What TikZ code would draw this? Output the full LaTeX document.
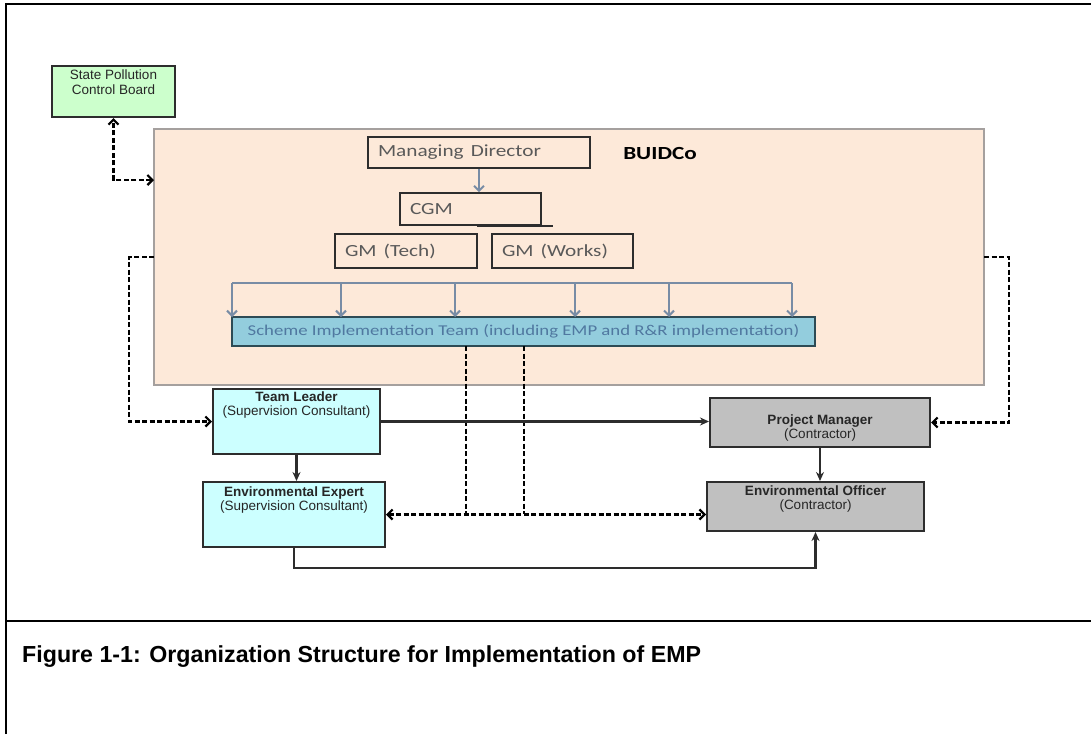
\documentclass[tikz,border=0pt]{standalone}
\usepackage{fontspec}
\setmainfont{Liberation Sans}
\newfontfamily\carlitofont{Carlito}
\usetikzlibrary{arrows.meta}
\definecolor{peach}{RGB}{253,233,217}
\definecolor{peachborder}{RGB}{165,160,158}
\definecolor{spgreen}{RGB}{204,255,204}
\definecolor{cyanbox}{RGB}{204,255,255}
\definecolor{graybox}{RGB}{192,192,192}
\definecolor{sitblue}{RGB}{147,205,221}
\definecolor{sitborder}{RGB}{45,75,85}
\definecolor{sittext}{RGB}{80,120,160}
\definecolor{arrowblue}{RGB}{120,140,165}
\definecolor{mdtext}{RGB}{89,89,89}
\definecolor{darkline}{RGB}{45,45,45}
\newcommand{\hstretch}[1]{\scalebox{1.25}[1]{#1}}
\tikzset{
  box/.style={draw=darkline, line width=2pt, inner sep=0pt, rectangle},
  spcbbox/.style={box, fill=spgreen},
  buidbox/.style={draw=peachborder, fill=peach, line width=1.8pt, inner sep=0pt, rectangle},
  mdbox/.style={draw=darkline, line width=1.6pt, inner xsep=10pt, inner ysep=0pt, rectangle,
    font=\carlitofont\fontsize{17}{20}\selectfont, text=mdtext, align=left},
  sitbox/.style={draw=sitborder, fill=sitblue, line width=2.2pt, inner sep=0pt, rectangle,
    font=\carlitofont\fontsize{15}{18}\selectfont, text=sittext},
  consbox/.style={box, fill=cyanbox},
  contrbox/.style={box, fill=graybox},
  lbl/.style={font=\fontsize{13.5}{14}\selectfont, align=center, inner sep=0pt, text=black!85},
  smalllbl/.style={font=\fontsize{13.5}{15}\selectfont, align=center, inner sep=0pt, text=black!85},
  solidarrow/.style={draw=darkline, line width=2.5pt, -{Stealth[length=9pt,width=8pt]}},
  plainline/.style={draw=darkline, line width=1.6pt},
  dashline/.style={draw=black, line width=2.2pt, dash pattern=on 5pt off 2.5pt},
  dasharrow/.style={dashline, -{Straight Barb[length=5pt,width=10pt]}},
  dashboth/.style={dashline, {Straight Barb[length=5pt,width=10pt]}-{Straight Barb[length=5pt,width=10pt]}},
  bluearrow/.style={draw=arrowblue, line width=2pt, -{Straight Barb[length=5pt,width=10pt]}},
  blueline/.style={draw=arrowblue, line width=2pt},
  frameline/.style={draw=black, line width=2.2pt}
}
\begin{document}
\begin{tikzpicture}[x=1pt,y=-1pt]
\useasboundingbox (0,0) rectangle (1091,734);
% frame
\draw[frameline] (6,734) -- (6,4) -- (1091,4);
\draw[frameline] (6,621) -- (1091,621);

% State Pollution Control Board
\node[spcbbox, minimum width=123pt, minimum height=51pt] (spcb) at (113.5,91.5) {};
\node[smalllbl] (spcbt) at (113.5,82.5) {State Pollution\\Control Board};

% BUIDCo
\node[buidbox, minimum width=830pt, minimum height=256pt] (buid) at (569,257) {};
\node[font=\carlitofont\bfseries\fontsize{18.5}{20}\selectfont, inner sep=0pt] (buidt) at (660,153) {\hstretch{BUIDCo}};

\node[mdbox, minimum width=222pt, minimum height=31pt, text width=202pt] (md) at (479,152.5) {\hstretch{Managing Director}};
\node[mdbox, minimum width=141pt, minimum height=32pt, text width=121pt] (cgm) at (470.5,209) {\hstretch{CGM}};
\node[mdbox, minimum width=142pt, minimum height=34pt, text width=122pt] (gmt) at (406,251) {\hstretch{GM (Tech)}};
\node[mdbox, minimum width=141pt, minimum height=34pt, text width=121pt] (gmw) at (562.5,251) {\hstretch{GM (Works)}};
\draw[plainline] (cgm.south) ++(6,0) -- ++(76,0);

\node[sitbox, minimum width=583pt, minimum height=29pt] (sit) at (523.5,331.5) {\hstretch{Scheme Implementation Team (including EMP and R\&R implementation)}};

% blue arrows
\draw[bluearrow] (md.south) -- (md.south |- cgm.north);
\coordinate (brL) at (232,283);
\coordinate (brR) at (792,283);
\draw[blueline] (brL) -- (brR);
\foreach \xx in {232,341,455,575,669,792}{
  \draw[bluearrow] (\xx,283) -- (\xx,317);
}

% lower boxes
\node[consbox, minimum width=167pt, minimum height=65pt] (tl) at (296.5,421.5) {};
\node[lbl] (tlt) at (296.5,405.5) {\textbf{Team Leader}\\(Supervision Consultant)};
\node[consbox, minimum width=182pt, minimum height=65pt] (ee) at (294,514.5) {};
\node[lbl] (eet) at (294,499.5) {\textbf{Environmental Expert}\\(Supervision Consultant)};
\node[contrbox, minimum width=220pt, minimum height=49pt] (pm) at (820,422.5) {};
\node[lbl] (pmt) at (820,427.5) {\textbf{Project Manager}\\(Contractor)};
\node[contrbox, minimum width=217pt, minimum height=49pt] (eo) at (815.5,506.5) {};
\node[lbl] (eot) at (815.5,499) {\textbf{Environmental Officer}\\(Contractor)};

% dashed connectors
\coordinate (buidL1) at (154,180);
\coordinate (buidL2) at (154,257);
\coordinate (buidR) at (984,257);
\draw[dashboth] (buidL1) -| (spcb.south);
\draw[dasharrow] (buidL2) -- (129,257) |- (tl.west);
\draw[dasharrow] (buidR) -- (1009,257) |- (pm.east);
\coordinate (sitA) at (466,346);
\coordinate (sitB) at (524,346);
\draw[dashline] (sitA) -- (466,514);
\draw[dashline] (sitB) -- (524,514);
\draw[dashboth] (ee.east) -- (ee.east -| eo.west);

% solid connectors
\draw[solidarrow] (tl.east) -- (tl.east -| pm.west);
\draw[solidarrow] (tl.south) -- (tl.south |- ee.north);
\draw[solidarrow] (pm.south) -- (pm.south |- eo.north);
\draw[solidarrow] (ee.south) -- ++(0,20) -| (eo.south);

% caption
\node[anchor=west, font=\bfseries\fontsize{23.2}{25}\selectfont, inner sep=0pt] (cap) at (22,657) {Figure 1-1: Organization Structure for Implementation of EMP};
\end{tikzpicture}
\end{document}
